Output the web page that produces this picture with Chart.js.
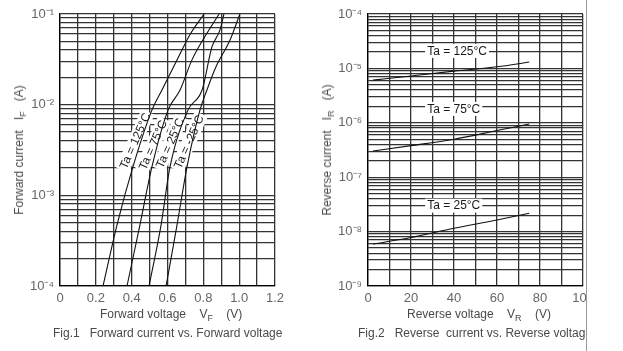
<!DOCTYPE html>
<html><head><meta charset="utf-8">
<script src="https://cdn.jsdelivr.net/npm/chart.js@4.4.1/dist/chart.umd.min.js"></script>
<style>
html,body{margin:0;padding:0;background:#fff;}
body{width:623px;height:351px;overflow:hidden;position:relative;font-family:"Liberation Sans",Arial,sans-serif;}
canvas{position:absolute;top:0;}
#c1{left:0;}
#c2{left:300px;}
.t{position:absolute;color:#4a4a4a;font-size:12px;white-space:nowrap;line-height:14px;}
.rot{transform:translate(-50%,-50%) rotate(-90deg);}
sub{font-size:9px;vertical-align:-3px;line-height:0;}
#crop{position:absolute;left:586px;top:0;width:37px;height:351px;background:#fff;border-left:1px solid #9a9a9a;z-index:5;}
</style></head><body>
<canvas id="c1" width="300" height="351"></canvas>
<canvas id="c2" width="323" height="351"></canvas>
<div class="t rot" style="left:19px;top:150px;">Forward current&nbsp;&nbsp;&nbsp;I<sub>F</sub>&nbsp;&nbsp;&nbsp;(A)</div>
<div class="t" style="left:100px;top:307px;">Forward voltage&nbsp;&nbsp;&nbsp;&nbsp;V<sub>F</sub>&nbsp;&nbsp;&nbsp;&nbsp;(V)</div>
<div class="t" style="left:53px;top:326px;">Fig.1&nbsp;&nbsp;&nbsp;Forward current vs. Forward voltage</div>
<div class="t rot" style="left:327px;top:150px;">Reverse current&nbsp;&nbsp;&nbsp;I<sub>R</sub>&nbsp;&nbsp;&nbsp;(A)</div>
<div class="t" style="left:407px;top:307px;">Reverse voltage&nbsp;&nbsp;&nbsp;&nbsp;V<sub>R</sub>&nbsp;&nbsp;&nbsp;&nbsp;(V)</div>
<div class="t" style="left:358px;top:326px;">Fig.2&nbsp;&nbsp;&nbsp;Reverse&nbsp;&nbsp;current vs. Reverse voltage</div>
<div id="crop"></div>
<script>
// ---------- Fig.1 data ----------
const fwdXTicks = [0,0.1,0.2,0.3,0.4,0.5,0.6,0.7,0.8,0.9,1.0,1.1,1.2];
const fwdXLabels = ['0','','0.2','','0.4','','0.6','','0.8','','1.0','','1.2'];
const fwdYDecades = [1e-4,1e-3,1e-2,1e-1];
const fwdYLabels = ['10\u207B\u2074','10\u207B\u00B3','10\u207B\u00B2','10\u207B\u00B9'];
const fwdSeriesNames = ['Ta = 125°C','Ta = 75°C','Ta = 25°C','Ta = -25°C'];
const vf125 = [0.24, 0.318, 0.407, 0.513, 0.569, 0.653, 0.725, 0.804];
const if125 = [1e-4, 4.7e-4, 2.06e-3, 8.7e-3, 1.45e-2, 3.1e-2, 5.9e-2, 1e-1];
const vf75  = [0.374, 0.446, 0.513, 0.603, 0.67, 0.736, 0.798, 0.888];
const if75  = [1e-4, 4.7e-4, 2.06e-3, 8.7e-3, 1.45e-2, 3.1e-2, 5.2e-2, 1e-1];
const vf25  = [0.497, 0.564, 0.614, 0.714, 0.793, 0.848, 0.893, 0.915];
const if25  = [1e-4, 4.7e-4, 2.06e-3, 8.7e-3, 1.45e-2, 4.33e-2, 6.67e-2, 1e-1];
const vfm25 = [0.592, 0.653, 0.709, 0.781, 0.82, 0.87, 0.949, 1.004];
const ifm25 = [1e-4, 4.7e-4, 2.06e-3, 8.7e-3, 1.45e-2, 2.6e-2, 5.16e-2, 1e-1];

// ---------- Fig.2 data ----------
const revXTicks = [0,10,20,30,40,50,60,70,80,90,100];
const revXLabels = ['0','','20','','40','','60','','80','','100'];
const revYDecades = [1e-9,1e-8,1e-7,1e-6,1e-5,1e-4];
const revYLabels = ['10\u207B\u2079','10\u207B\u2078','10\u207B\u2077','10\u207B\u2076','10\u207B\u2075','10\u207B\u2074'];
const revSeriesNames = ['Ta = 125°C','Ta = 75°C','Ta = 25°C'];
const vr = [2.3, 20, 40, 60, 75];
const ir125 = [6.1e-6, 7.24e-6, 8.9e-6, 1.07e-5, 1.31e-5];
const ir75  = [3.03e-7, 3.8e-7, 5.0e-7, 7.2e-7, 9.5e-7];
const ir25  = [5.9e-9, 7.8e-9, 1.15e-8, 1.63e-8, 2.17e-8];

const FONT = '"Liberation Sans", Arial, sans-serif';
Chart.defaults.font.family = FONT;
Chart.defaults.animation = false;

function pts(xs, ys){ return xs.map((x,i)=>({x:x, y:ys[i]})); }
function logGrid(decades){
  const out=[];
  decades.forEach((d,i)=>{
    if(i===decades.length-1){ out.push(d); return; }
    for(let m=1;m<=9;m++) out.push(d*m);
  });
  return out;
}
function decadeLabel(decades, labels){
  return function(v){
    const i = decades.findIndex(d=>Math.abs(d-v)/d<1e-6);
    return i>=0 ? labels[i] : '';
  };
}

function drawLabels(chart, o, bg){
  const ctx=chart.ctx, xs=chart.scales.x, ys=chart.scales.y;
  ctx.save();
  ctx.font = o.font;
  (o.items||[]).forEach(it=>{
    const px=xs.getPixelForValue(it.x), py=ys.getPixelForValue(it.y);
    const w=ctx.measureText(it.text).width;
    ctx.save();
    ctx.translate(px,py);
    ctx.rotate((it.angle||0)*Math.PI/180);
    const x0 = it.align==='left' ? 0 : -w/2;
    if(bg){
      ctx.fillStyle='#fff';
      ctx.fillRect(x0-2,-7,w+4,14);
    } else {
      ctx.fillStyle=o.color;
      ctx.textAlign='left';
      ctx.textBaseline='middle';
      ctx.fillText(it.text,x0,0.5);
    }
    ctx.restore();
  });
  ctx.restore();
}
const curveLabels = {
  id:'curveLabels',
  beforeDatasetsDraw(chart,args,o){ drawLabels(chart,o,true); },
  afterDatasetsDraw(chart,args,o){ drawLabels(chart,o,false); }
};

function lineDs(name, data){
  return {label:name, data:data, borderColor:'#111', borderWidth:1.1, pointRadius:0,
          fill:false, cubicInterpolationMode:'monotone'};
}

const gridStyle = {color:'#333', lineWidth:1.3, drawTicks:false};
const tickFont = {size:13, family:FONT};

new Chart(document.getElementById('c1'), {
  type:'line',
  data:{ datasets:[
    lineDs(fwdSeriesNames[0], pts(vf125,if125)),
    lineDs(fwdSeriesNames[1], pts(vf75,if75)),
    lineDs(fwdSeriesNames[2], pts(vf25,if25)),
    lineDs(fwdSeriesNames[3], pts(vfm25,ifm25))
  ]},
  plugins:[curveLabels],
  options:{
    responsive:false, devicePixelRatio:1,
    layout:{padding:{left:0, top:14, right:25, bottom:0}},
    plugins:{
      legend:{display:false}, tooltip:{enabled:false},
      curveLabels:{font:'12px '+FONT, color:'#1a1a1a', items:[
        {text:fwdSeriesNames[0], x:0.419, y:3.98e-3, angle:-66},
        {text:fwdSeriesNames[1], x:0.519, y:3.59e-3, angle:-66},
        {text:fwdSeriesNames[2], x:0.614, y:3.77e-3, angle:-66},
        {text:fwdSeriesNames[3], x:0.720, y:3.89e-3, angle:-66}
      ]}
    },
    scales:{
      x:{type:'linear', min:0, max:1.2,
         afterBuildTicks:s=>{ s.ticks = fwdXTicks.map(v=>({value:v})); },
         afterFit:s=>{ s.height = 65; },
         grid:gridStyle, border:{color:'#000', width:1.3},
         ticks:{autoSkip:false, maxRotation:0, minRotation:0, padding:5, color:'#666', font:tickFont,
                callback:(v,i)=>fwdXLabels[i]}},
      y:{type:'logarithmic', min:1e-4, max:1e-1,
         afterBuildTicks:s=>{ s.ticks = logGrid(fwdYDecades).map(v=>({value:v})); },
         afterFit:s=>{ s.width = 60; },
         grid:gridStyle, border:{color:'#000', width:1.3},
         ticks:{autoSkip:false, padding:6, color:'#666', font:{size:13, family:FONT},
                callback:decadeLabel(fwdYDecades, fwdYLabels)}}
    }
  }
});

new Chart(document.getElementById('c2'), {
  type:'line',
  data:{ datasets:[
    lineDs(revSeriesNames[0], pts(vr,ir125)),
    lineDs(revSeriesNames[1], pts(vr,ir75)),
    lineDs(revSeriesNames[2], pts(vr,ir25))
  ]},
  plugins:[curveLabels],
  options:{
    responsive:false, devicePixelRatio:1,
    layout:{padding:{left:0, top:14, right:40, bottom:0}},
    plugins:{
      legend:{display:false}, tooltip:{enabled:false},
      curveLabels:{font:'12px '+FONT, color:'#1a1a1a', items:[
        {text:revSeriesNames[0], x:27.5, y:2.1e-5, align:'left'},
        {text:revSeriesNames[1], x:27.5, y:1.8e-6, align:'left'},
        {text:revSeriesNames[2], x:27.5, y:3e-8, align:'left'}
      ]}
    },
    scales:{
      x:{type:'linear', min:0, max:100,
         afterBuildTicks:s=>{ s.ticks = revXTicks.map(v=>({value:v})); },
         afterFit:s=>{ s.height = 65; },
         grid:gridStyle, border:{color:'#000', width:1.3},
         ticks:{autoSkip:false, maxRotation:0, minRotation:0, padding:5, color:'#666', font:tickFont,
                callback:(v,i)=>revXLabels[i]}},
      y:{type:'logarithmic', min:1e-9, max:1e-4,
         afterBuildTicks:s=>{ s.ticks = logGrid(revYDecades).map(v=>({value:v})); },
         afterFit:s=>{ s.width = 68; },
         grid:gridStyle, border:{color:'#000', width:1.3},
         ticks:{autoSkip:false, padding:6, color:'#666', font:{size:13, family:FONT},
                callback:decadeLabel(revYDecades, revYLabels)}}
    }
  }
});
</script>
</body></html>
